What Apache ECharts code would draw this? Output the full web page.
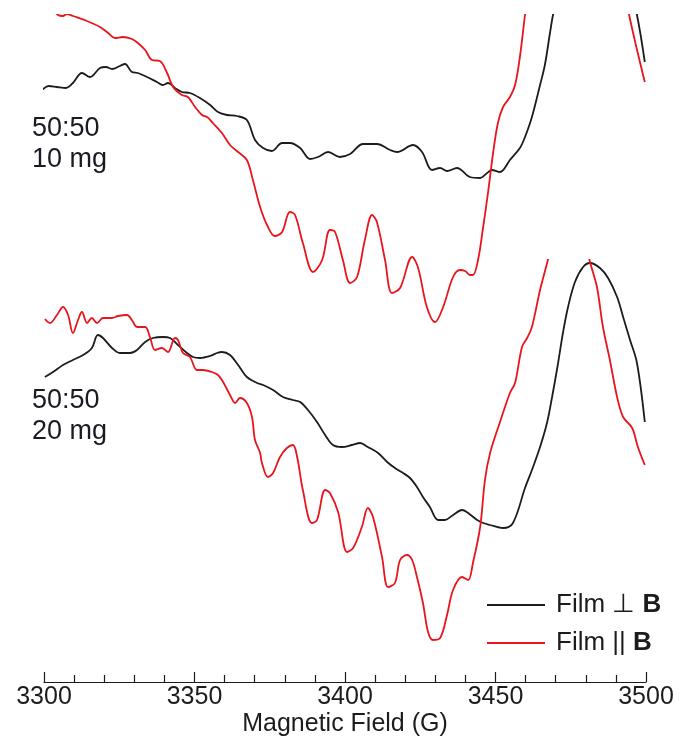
<!DOCTYPE html>
<html>
<head>
<meta charset="utf-8">
<script src="https://cdn.jsdelivr.net/npm/echarts@6/dist/echarts.min.js"></script>
<style>html,body{margin:0;padding:0;background:#fff;}#c{width:680px;height:737px;}</style>
</head>
<body>
<div id="c"></div>
<script>
// Field (G) values and relative intensities (a.u.)
const fieldTicks = [3300, 3350, 3400, 3450, 3500];
const seriesNames = ['Film \u22A5 B', 'Film || B'];
const panelLabels = ['50:50\n10 mg', '50:50\n20 mg'];

// 50:50 10 mg, Film ⊥ B  [field, intensity]
const perp10 = [
[3299.0,244],[3301.6,249],[3304.3,248],[3307.3,247],[3309.6,252],[3312.6,262],[3315.3,258],[3318.6,267],
[3320.6,268],[3322.6,266],[3325.2,269],[3326.9,271],[3329.2,263],[3331.2,262],[3334.2,258],[3337.5,253],
[3339.5,250],[3341.2,252],[3343.5,247],[3345.8,243],[3348.5,242],[3351.8,237],[3355.2,230],[3357.8,223],
[3360.8,220],[3364.1,219],[3367.4,215],[3370.1,195],[3372.8,187],[3375.7,184],[3379.1,192],[3381.7,192],
[3385.1,187],[3388.4,176],[3391.0,178],[3394.4,183],[3398.3,178],[3401.7,181],[3406.0,191],[3410.6,191],
[3415.0,185],[3417.3,183],[3422.6,190],[3425.6,183],[3428.9,165],[3431.6,167],[3433.9,164],[3437.2,167],
[3441.5,158],[3444.9,157],[3447.2,162],[3448.8,165],[3451.5,163],[3454.8,175],[3458.1,187],[3459.8,198],
[3462.1,218],[3464.8,250],[3466.4,270],[3468.1,302],[3469.1,320],[3472.4,365],[3476.4,410],[3479.1,425],
[3481.4,430],[3484.7,425],[3487.4,412],[3490.4,392],[3492.4,372],[3494.7,345],[3497.0,320],[3499.6,273]
];
// 50:50 10 mg, Film || B
const para10 = [
[3300.0,335],[3304.7,320],[3306.3,319],[3307.6,321],[3309.6,319],[3314.3,314],[3318.6,308],[3321.3,302],
[3323.6,297],[3326.2,298],[3329.2,296],[3331.2,292],[3333.6,285],[3335.9,275],[3338.5,274],[3340.9,262],
[3342.9,248],[3345.8,240],[3347.8,238],[3350.2,228],[3352.5,220],[3354.2,218],[3356.1,212],[3359.1,202],
[3361.8,190],[3364.5,183],[3367.4,175],[3369.4,155],[3371.8,128],[3374.1,110],[3376.7,99],[3379.1,103],
[3381.7,123],[3383.4,120],[3386.0,92],[3389.4,63],[3392.4,75],[3395.0,105],[3396.7,103],[3399.3,75],
[3401.7,52],[3404.0,58],[3406.6,95],[3409.0,120],[3410.6,113],[3413.3,75],[3415.6,42],[3418.3,47],
[3422.3,78],[3424.3,67],[3427.2,28],[3429.9,13],[3432.6,28],[3435.9,58],[3438.2,65],[3439.9,64],
[3441.5,60],[3442.5,60],[3444.2,75],[3445.9,108],[3447.5,142],[3449.2,182],[3450.8,212],[3452.5,228],
[3454.8,238],[3456.5,250],[3458.1,278],[3459.8,320],[3462.0,370],[3466.0,440],[3470.0,500],[3478.0,530],
[3484.0,500],[3490.0,390],[3494.4,320],[3499.6,253]
];
// 50:50 20 mg, Film ⊥ B
const perp20 = [
[3300.3,308],[3303.0,313],[3306.3,320],[3309.6,325],[3313.0,330],[3315.9,337],[3317.9,350],[3319.6,347],
[3322.6,337],[3325.2,332],[3328.6,332],[3330.9,335],[3333.6,343],[3336.2,347],[3339.5,348],[3341.9,347],
[3344.5,340],[3347.5,332],[3349.5,328],[3351.8,327],[3355.2,329],[3357.5,332],[3359.1,333],[3361.8,330],
[3364.5,320],[3367.4,308],[3370.8,302],[3372.8,300],[3376.1,295],[3379.4,288],[3382.7,285],[3385.1,283],
[3387.7,275],[3390.7,263],[3393.4,250],[3396.0,240],[3399.0,238],[3402.3,240],[3405.0,242],[3407.6,238],
[3411.0,232],[3414.0,223],[3416.6,217],[3419.3,212],[3421.6,207],[3423.9,198],[3425.9,188],[3428.2,178],
[3430.9,165],[3433.2,165],[3435.9,170],[3438.9,175],[3440.9,172],[3443.9,165],[3445.9,162],[3448.2,160],
[3452.5,157],[3455.8,162],[3459.8,197],[3462.1,215],[3464.8,238],[3467.1,262],[3468.8,288],[3470.8,322],
[3472.4,352],[3474.1,378],[3476.4,403],[3479.1,418],[3481.4,422],[3484.7,417],[3487.4,407],[3490.4,388],
[3492.4,368],[3494.7,345],[3497.0,322],[3499.6,263]
];
// 50:50 20 mg, Film || B
const para20 = [
[3300.3,366],[3302.0,362],[3304.3,370],[3306.3,378],[3308.0,370],[3309.6,352],[3311.3,365],[3312.6,373],
[3314.3,362],[3315.9,367],[3317.6,362],[3319.6,367],[3322.6,367],[3324.6,369],[3327.6,370],[3329.2,365],
[3330.9,358],[3333.6,358],[3335.2,348],[3336.9,335],[3339.2,337],[3341.2,333],[3343.5,347],[3344.5,345],
[3346.2,332],[3348.5,328],[3350.8,315],[3352.8,315],[3355.8,313],[3357.8,310],[3359.5,303],[3361.8,290],
[3363.5,282],[3365.1,287],[3367.4,282],[3369.1,268],[3370.1,245],[3371.8,232],[3372.4,222],[3374.4,208],
[3376.1,212],[3378.4,228],[3380.7,237],[3382.7,240],[3384.1,228],[3386.0,195],[3389.0,162],[3390.7,165],
[3393.4,195],[3395.0,192],[3397.7,173],[3400.7,133],[3402.7,137],[3405.6,158],[3407.6,177],[3409.3,168],
[3412.3,128],[3414.3,98],[3416.6,102],[3418.3,125],[3420.6,130],[3422.3,125],[3423.9,108],[3425.9,82],
[3427.6,53],[3429.2,45],[3431.6,47],[3433.9,70],[3435.9,95],[3438.9,108],[3440.9,105],[3442.5,122],
[3444.9,158],[3446.5,205],[3448.2,232],[3451.5,263],[3454.8,292],[3456.5,302],[3458.8,338],[3460.5,347],
[3462.1,358],[3464.8,395],[3467.4,425],[3471.0,470],[3475.0,490],[3478.0,465],[3481.4,423],[3483.7,398],
[3485.7,358],[3488.0,325],[3490.4,288],[3492.4,268],[3495.4,257],[3497.3,238],[3499.6,220]
];

const BLACK = '#1c1c1c';
const RED = '#e8161c';
const FONT = '"Liberation Sans", Arial, sans-serif';

const chart = echarts.init(document.getElementById('c'), null, {renderer: 'canvas'});

function lineSeries(name, data, color, idx) {
  return {
    name: name, type: 'line', data: data, xAxisIndex: idx, yAxisIndex: idx,
    symbol: 'none', smooth: 0.35, clip: true, animation: false,
    lineStyle: {color: color, width: 1.8}, itemStyle: {color: color}
  };
}

chart.setOption({
  backgroundColor: '#fff',
  animation: false,
  grid: [
    {left: 44, right: 34, top: 15, height: 320, outerBoundsMode: 'none', containLabel: false},
    {left: 44, right: 34, top: 260, bottom: 55, outerBoundsMode: 'none', containLabel: false}
  ],
  xAxis: [
    {gridIndex: 0, type: 'value', min: fieldTicks[0], max: fieldTicks[fieldTicks.length - 1], show: false},
    {gridIndex: 1, type: 'value', min: fieldTicks[0], max: fieldTicks[fieldTicks.length - 1], interval: 50,
     name: 'Magnetic Field (G)', nameLocation: 'middle', nameGap: 30, nameMoveOverlap: false,
     nameTextStyle: {fontSize: 25, color: BLACK, fontFamily: FONT},
     axisLine: {show: true, lineStyle: {color: BLACK, width: 1.2}},
     axisTick: {show: true, inside: true, length: 10, lineStyle: {color: BLACK, width: 1.2}},
     minorTick: {show: true, splitNumber: 5, length: 7, lineStyle: {color: BLACK, width: 1.2}},
     splitLine: {show: false}, minorSplitLine: {show: false},
     axisLabel: {fontSize: 25, color: BLACK, fontFamily: FONT, margin: 3,
                 formatter: function (v) { return String(v); }}}
  ],
  yAxis: [
    {gridIndex: 0, type: 'value', min: 0, max: 320, show: false},
    {gridIndex: 1, type: 'value', min: 3, max: 425, show: false}
  ],
  legend: {
    orient: 'vertical', left: 482, top: 587, itemGap: 12,
    icon: 'rect', itemWidth: 58, itemHeight: 2,
    data: seriesNames,
    formatter: function (name) {
      const parts = name.split(' B');
      return '{t|' + parts[0] + ' }{b|B}';
    },
    textStyle: {
      fontFamily: FONT, fontSize: 26, lineHeight: 26, color: BLACK, padding: [0, 0, 0, 6],
      rich: {
        t: {fontSize: 26, lineHeight: 26, color: BLACK, fontFamily: FONT},
        b: {fontSize: 26, lineHeight: 26, color: BLACK, fontFamily: FONT, fontWeight: 'bold'}
      }
    }
  },
  graphic: [
    {type: 'text', left: 32, top: 113, style: {text: panelLabels[0], fontSize: 27, lineHeight: 31, fill: '#1a1a26', fontFamily: FONT}},
    {type: 'text', left: 32, top: 385, style: {text: panelLabels[1], fontSize: 27, lineHeight: 31, fill: '#1a1a26', fontFamily: FONT}}
  ],
  series: [
    lineSeries(seriesNames[0], perp10, BLACK, 0),
    lineSeries(seriesNames[1], para10, RED, 0),
    lineSeries(seriesNames[0], perp20, BLACK, 1),
    lineSeries(seriesNames[1], para20, RED, 1)
  ]
});
</script>
</body>
</html>
